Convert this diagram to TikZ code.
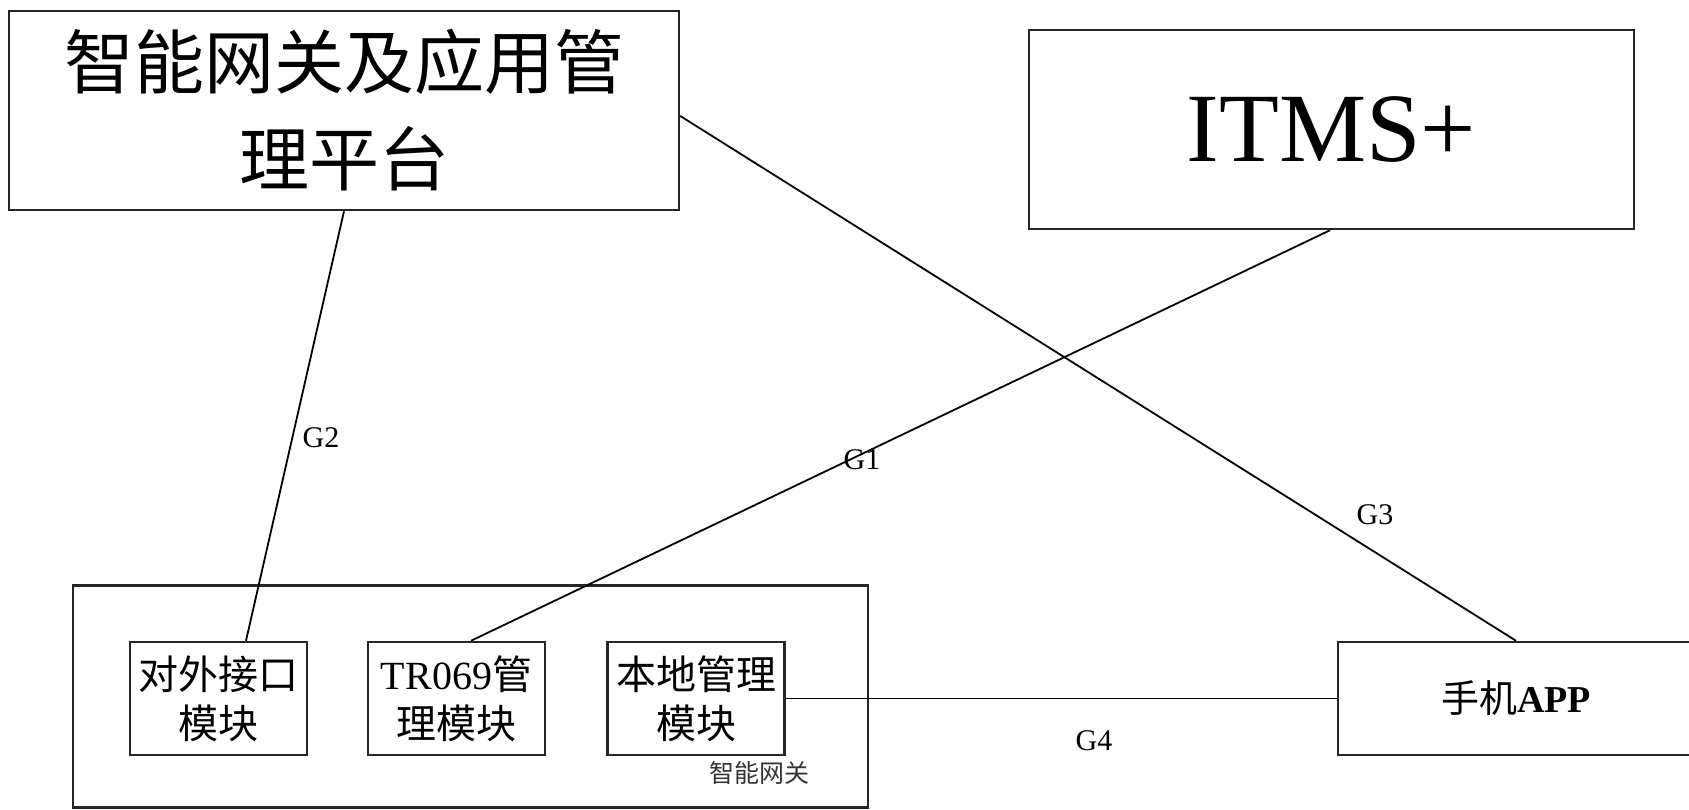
\documentclass[tikz,border=0pt]{standalone}
\usepackage{fontspec}
\setmainfont{Liberation Serif}
\newfontfamily\cjk{Noto Sans CJK SC}
\begin{document}
\begin{tikzpicture}[x=1pt,y=-1pt,
  box/.style={draw=black!85,line width=2.5pt,inner sep=0pt,align=center},
  sub/.style={box,minimum width=177pt,minimum height=113pt,font=\fontsize{40}{49}\selectfont},
  conn/.style={draw=black,line width=1.8pt},
  lab/.style={font=\fontsize{30}{32}\selectfont,inner sep=0pt}]
\useasboundingbox (0,0) rectangle (1689,810);
\node[box,minimum width=670pt,minimum height=199pt,font=\fontsize{70}{97}\selectfont\cjk] (A) at (344,110.5) {智能网关及应用管\\理平台};
\node[box,minimum width=605pt,minimum height=199pt,font=\fontsize{98}{100}\selectfont] (B) at (1331.5,129.5) {ITMS+};
\node[box,minimum width=795pt,minimum height=222pt] (gw) at (470.5,696.5) {};
\node[sub] (d1) at (218.5,698.5) {{\cjk 对外接口}\\{\cjk 模块}};
\node[sub] (d2) at (456.5,698.5) {TR069{\cjk 管}\\{\cjk 理模块}};
\node[sub] (d3) at (696,698.5) {{\cjk 本地管理}\\{\cjk 模块}};
\node[box,minimum width=356pt,minimum height=113pt,font=\fontsize{38}{40}\selectfont] (app) at (1516,698.5) {{\cjk 手机}\textbf{APP}};
\node[font=\fontsize{25}{27}\selectfont\cjk,text=black!80,inner sep=0pt] (gwl) at (759,773) {智能网关};
\draw[conn] (A.south) -- ([xshift=27.5pt]d1.north);
\draw[conn] ([xshift=-1.5pt]B.south) -- ([xshift=14.5pt]d2.north);
\draw[conn] ([yshift=-5.5pt]A.east) -- (app.north);
\draw[conn] (d3.east) -- (app.west);
\node[lab] (g2) at (321,438) {G2};
\node[lab] (g1) at (862,460) {G1};
\node[lab] (g3) at (1375,515) {G3};
\node[lab] (g4) at (1094,741) {G4};
\end{tikzpicture}
\end{document}
